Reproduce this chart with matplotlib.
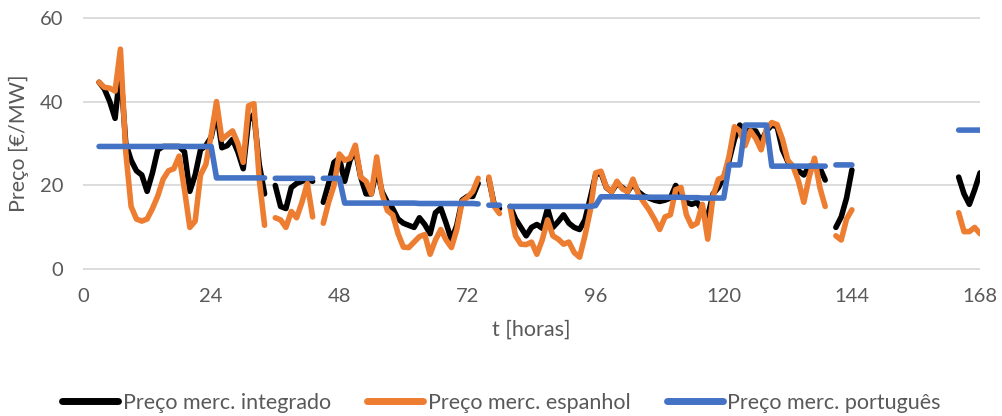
import numpy as np
import matplotlib
matplotlib.use('Agg')
import matplotlib.pyplot as plt

nan = np.nan

# hours 3..168
hours = list(range(3, 169))

# Preço merc. integrado
integrado = [
    44.6, 43, 40, 36, 48, 30, 26, 23.5, 22.5, 18.6,        # 3-12
    23, 28.5, 29.3, 29.3, 29.3, 29.3, 28, 18.6, 22.5, 28.5,  # 13-22
    29.5, 31.5, 37.5, 29, 29.5, 31, 28, 24, 35.5, 37,        # 23-32
    25, 18, nan, 20, 15, 14.5, 19.5, 20.5, 21, 21.5,         # 33-42
    21, nan, 16, 20.5, 25.5, 26.5, 21, 26, 28.5, 22,         # 43-52
    18, 18, 24, 18.5, 16, 14.5, 12, 11, 10.5, 10,            # 53-62
    12.3, 10.7, 8.5, 13.5, 14.6, 11, 7, 10.5, 16.5, 17.4,    # 63-72
    17.4, 20.5, nan, 21.5, 15.5, 14.5, nan, 15, 12, 10,      # 73-82
    8, 10, 10.7, 9.8, 14.5, 10, 11.4, 13, 11, 10,            # 83-92
    9.5, 11.8, 17, 22.5, 23, 19.5, 18.5, 20.5, 19.5, 18.5,   # 93-102
    20.5, 18.5, 17.5, 17, 16.5, 16.2, 16.5, 17, 20, 17.8,    # 103-112
    16, 15.5, 16, 14, 12.6, 18, 19.5, 22, 26, 31,            # 113-122
    34.4, 33, 33, 33, 30.5, 33, 34.4, 34, 28.5, 25.7,        # 123-132
    24.5, 23.5, 22.5, 24.5, 25, 24.2, 21.3, nan, 10, 12.5,   # 133-142
    17, 23.7,                                                # 143-144
    nan, nan, nan, nan, nan, nan, nan, nan, nan, nan,        # 145-154
    nan, nan, nan, nan, nan, nan, nan, nan, nan,             # 155-163
    22, 18, 15.5, 19, 23,                                    # 164-168
]

# Preço merc. espanhol
espanhol = [
    44.6, 43.4, 43.2, 42.5, 52.5, 28, 15, 12, 11.5, 12,      # 3-12
    14.5, 17.5, 21.5, 23.5, 24, 27, 19, 10, 11.5, 22.5,      # 13-22
    25, 32, 40, 31, 32, 33, 30, 25.5, 39, 39.5,              # 23-32
    21.5, 10.5, nan, 12.3, 11.8, 10, 13.8, 12.3, 16, 20.5,   # 33-42
    12.5, nan, 11, 16, 20, 27.5, 26, 26.5, 29.6, 22,         # 43-52
    21, 18, 26.8, 18, 14, 13, 8.5, 5.3, 5.2, 6.5,            # 53-62
    7.8, 8.3, 3.6, 7, 9.5, 7, 5.2, 9.5, 16.2, 17.2,          # 63-72
    18.6, 21.7, nan, 22, 15, 13.3, nan, 14.7, 8, 6,          # 73-82
    5.9, 6.5, 3.6, 7, 11.8, 8, 7.2, 6, 6.5, 4,               # 83-92
    2.9, 8, 14, 23, 23.4, 19.6, 18.5, 21, 19.2, 18.5,        # 93-102
    21.5, 18, 16, 14.2, 12, 9.5, 12.5, 13, 19, 19.5,         # 103-112
    13, 10.3, 11, 15.5, 7.2, 17.5, 21.5, 22, 27, 34,         # 113-122
    33, 29.5, 33, 31.2, 28.5, 33.5, 35, 34.5, 31, 26,        # 123-132
    24.5, 21, 16, 22, 26.5, 19.5, 15, nan, 8, 7,             # 133-142
    12, 14.2,                                                # 143-144
    nan, nan, nan, nan, nan, nan, nan, nan, nan, nan,        # 145-154
    nan, nan, nan, nan, nan, nan, nan, nan, nan,             # 155-163
    13.5, 9, 9, 10, 8.5,                                     # 164-168
]

# Preço merc. português
portugues = [
    29.3, 29.3, 29.3, 29.3, 29.3, 29.3, 29.3, 29.3, 29.3, 29.3,  # 3-12
    29.3, 29.3, 29.3, 29.3, 29.3, 29.3, 29.3, 29.3, 29.3, 29.3,  # 13-22
    29.3, 29.3, 21.8, 21.8, 21.8, 21.8, 21.8, 21.8, 21.8, 21.8,  # 23-32
    21.8, 21.8, nan, 21.7, 21.7, 21.7, 21.7, 21.7, 21.7, 21.7,   # 33-42
    21.7, nan, 21.7, 21.7, 21.7, 21.7, 15.8, 15.8, 15.8, 15.8,   # 43-52
    15.8, 15.8, 15.8, 15.8, 15.8, 15.8, 15.8, 15.8, 15.8, 15.8,  # 53-62
    15.7, 15.7, 15.7, 15.7, 15.7, 15.7, 15.7, 15.7, 15.7, 15.7,  # 63-72
    15.7, 15.6, nan, 15.3, 15.3, 15.3, nan, 15.0, 15.0, 15.0,    # 73-82
    15.0, 15.0, 15.0, 15.0, 15.0, 15.0, 15.0, 15.0, 15.0, 15.0,  # 83-92
    15.0, 15.0, 15.0, 15.2, 17.3, 17.3, 17.3, 17.3, 17.3, 17.3,  # 93-102
    17.2, 17.2, 17.2, 17.2, 17.2, 17.2, 17.2, 17.2, 17.2, 17.2,  # 103-112
    17.1, 17.1, 17.1, 17.0, 17.0, 17.0, 17.0, 17.0, 24.9, 24.9,  # 113-122
    24.9, 34.4, 34.4, 34.4, 34.4, 34.4, 24.6, 24.6, 24.6, 24.6,  # 123-132
    24.6, 24.6, 24.6, 24.6, 24.6, 24.6, 24.6, nan, 24.9, 24.9,   # 133-142
    24.9, 24.9,                                                  # 143-144
    nan, nan, nan, nan, nan, nan, nan, nan, nan, nan,            # 145-154
    nan, nan, nan, nan, nan, nan, nan, nan, nan,                 # 155-163
    33.2, 33.2, 33.2, 33.2, 33.2,                                # 164-168
]

labels = ['Preço merc. integrado', 'Preço merc. espanhol', 'Preço merc. português']
colors = ['#000000', '#ED7D31', '#4472C4']

plt.rcParams['font.family'] = ['Lato', 'DejaVu Sans']
grey = '#595959'

fig = plt.figure(figsize=(10.03, 4.16), dpi=100)
ax = fig.add_axes([0.0828, 0.351, 0.8943, 0.608])

for series, lab, col in zip([integrado, espanhol, portugues], labels, colors):
    ax.plot(hours, series, color=col, lw=4.0, label=lab,
            solid_capstyle='round', solid_joinstyle='round')

ax.set_xlim(0, 168)
ax.set_ylim(-0.15, 60.15)
ax.set_xticks(range(0, 169, 24))
ax.set_yticks([0, 20, 40, 60])
ax.grid(axis='y', color='#d9d9d9', lw=1.3)
ax.set_axisbelow(True)
for s in ax.spines.values():
    s.set_visible(False)
ax.tick_params(length=0, labelsize=14.5, labelcolor=grey)
ax.tick_params(axis='x', pad=13)
ax.tick_params(axis='y', pad=14)

ax.set_xlabel('t [horas]', fontsize=15.5, color=grey)
ax.xaxis.label.set_va('center')
ax.xaxis.set_label_coords(0.5, -0.237)
ax.set_ylabel('Preço [€/MW]', fontsize=15.5, color=grey)
ax.yaxis.label.set_va('center')
ax.yaxis.set_label_coords(-0.071, 0.5)

leg = fig.legend(loc='center', bbox_to_anchor=(0.5, 13 / 416), ncol=3, frameon=False,
                 handlelength=2.6, handletextpad=0.2, columnspacing=1.7, fontsize=15.5)
for t in leg.get_texts():
    t.set_color(grey)
for h in leg.get_lines():
    h.set_linewidth(5)

fig.savefig('out.png', dpi=100)
